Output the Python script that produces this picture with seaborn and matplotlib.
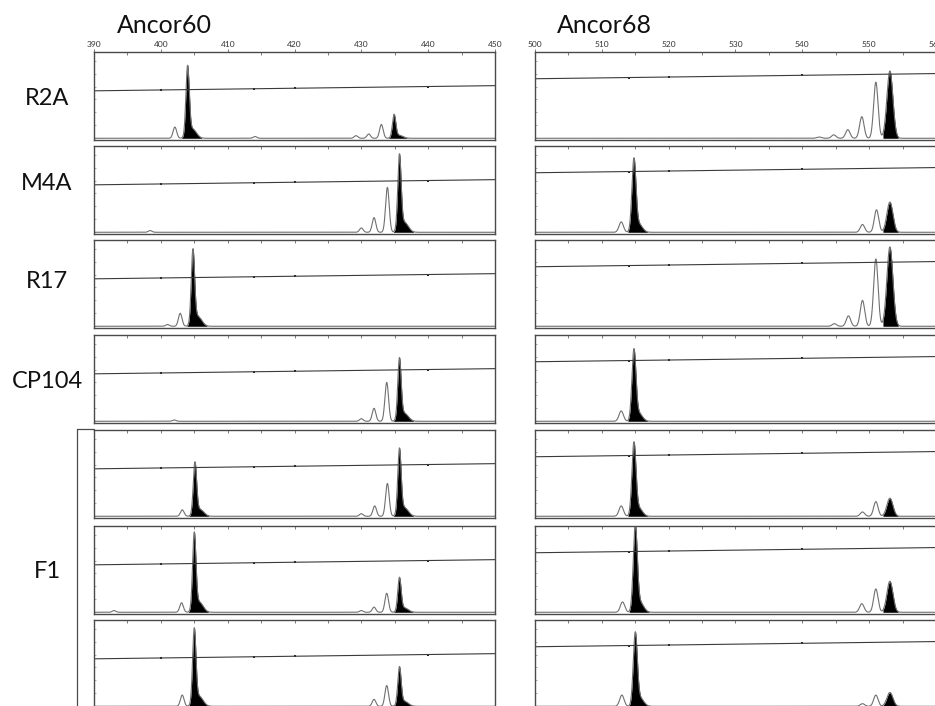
import numpy as np
import matplotlib
matplotlib.use("Agg")
import matplotlib.pyplot as plt
from matplotlib.lines import Line2D
import seaborn as sns

sns.set_style("white")
plt.rcParams["font.family"] = ["Lato", "DejaVu Sans"]

# ---------------- data ----------------
row_labels = ["R2A", "M4A", "R17", "CP104", "F1"]

markers = ["Ancor60", "Ancor68"]
ancor60_range = [390, 450]
ancor68_range = [500, 560]
ancor60_ticks = [390, 400, 410, 420, 430, 440, 450]
ancor68_ticks = [500, 510, 520, 530, 540, 550, 560]

# peaks: (size in bp, relative height, called allele?)
ancor60_peaks = [
    [(402.1, 0.13, False), (404.0, 0.79, True), (414.1, 0.02, False), (429.2, 0.03, False),
     (431.1, 0.05, False), (433.0, 0.16, False), (434.9, 0.26, True)],
    [(398.4, 0.02, False), (430.0, 0.05, False), (431.9, 0.17, False), (433.9, 0.52, False),
     (435.7, 0.85, True)],
    [(401.0, 0.02, False), (402.9, 0.15, False), (404.8, 0.84, True)],
    [(402.0, 0.015, False), (430.0, 0.03, False), (431.9, 0.15, False), (433.8, 0.45, False),
     (435.7, 0.69, True)],
    [(403.2, 0.075, False), (405.1, 0.59, True), (430.0, 0.03, False), (432.0, 0.12, False),
     (433.9, 0.38, False), (435.7, 0.74, True)],
    [(393.0, 0.02, False), (403.1, 0.11, False), (405.0, 0.87, True), (430.0, 0.02, False),
     (431.9, 0.06, False), (433.8, 0.22, False), (435.7, 0.38, True)],
    [(403.2, 0.13, False), (405.0, 0.85, True), (431.9, 0.08, False), (433.8, 0.24, False),
     (435.7, 0.43, True)],
]
ancor68_peaks = [
    [(542.5, 0.015, False), (544.7, 0.04, False), (546.8, 0.10, False), (548.9, 0.25, False),
     (551.0, 0.65, False), (553.1, 0.78, True)],
    [(512.9, 0.12, False), (514.8, 0.82, True), (549.0, 0.09, False), (551.1, 0.26, False),
     (553.1, 0.35, True)],
    [(544.8, 0.03, False), (546.9, 0.12, False), (549.0, 0.30, False), (551.0, 0.78, False),
     (553.1, 0.92, True)],
    [(512.9, 0.12, False), (514.8, 0.80, True)],
    [(512.9, 0.12, False), (514.8, 0.82, True), (549.0, 0.05, False), (551.0, 0.17, False),
     (553.1, 0.21, True)],
    [(513.1, 0.12, False), (515.0, 0.97, True), (548.9, 0.10, False), (551.0, 0.27, False),
     (553.1, 0.36, True)],
    [(513.0, 0.13, False), (515.0, 0.82, True), (549.0, 0.03, False), (551.0, 0.13, False),
     (553.1, 0.16, True)],
]

# internal size-standard line (start/end level) and its marks
ancor60_std_level = [0.55, 0.61]
ancor60_std_marks = [400, 414, 420, 440]
ancor68_std_level = [0.69, 0.75]
ancor68_std_marks = [514, 520, 540]

# ---------------- drawing ----------------
W, H = 935, 706
fig = plt.figure(figsize=(W / 100, H / 100), dpi=100)

row_tops = [52, 146, 240, 335, 430, 526, 620]
panel_h = 88
col_left = [94, 535]
panel_w = 401

TRACE = "#707070"
EDGE = "#4a4a4a"

cols = [
    dict(rng=ancor60_range, ticks=ancor60_ticks, peaks=ancor60_peaks,
         lvl=ancor60_std_level, marks=ancor60_std_marks),
    dict(rng=ancor68_range, ticks=ancor68_ticks, peaks=ancor68_peaks,
         lvl=ancor68_std_level, marks=ancor68_std_marks),
]

for ci, col in enumerate(cols):
    lo, hi = col["rng"]
    x = np.linspace(lo, hi, 4001)
    for ri in range(7):
        top = row_tops[ri]
        ax = fig.add_axes([col_left[ci] / W, 1 - (top + panel_h) / H, panel_w / W, panel_h / H])
        peaks = col["peaks"][ri]
        y = np.zeros_like(x)
        for p, h, called in peaks:
            if ci == 0:
                s = 0.25 if called else 0.27
                y += h * np.exp(-(x - p) ** 2 / (2 * s ** 2))
                if called:
                    y += 0.14 * h * np.exp(-(x - (p + 0.7)) ** 2 / (2 * 0.6 ** 2))
            else:
                if called and p > 540:
                    s = 0.45
                elif called:
                    s = 0.30
                else:
                    s = 0.33
                y += h * np.exp(-(x - p) ** 2 / (2 * s ** 2))
                if called and p < 540:
                    y += 0.12 * h * np.exp(-(x - (p + 0.7)) ** 2 / (2 * 0.55 ** 2))
        sns.lineplot(x=x, y=y, ax=ax, color=TRACE, linewidth=0.8, estimator=None, sort=False)
        for p, h, called in peaks:
            if called:
                if ci == 1 and p > 540:
                    m = (x >= p - 1.05) & (x <= p + 1.25)
                else:
                    m = (x >= p - 0.9) & (x <= p + 2.1)
                ax.fill_between(x, 0, y, where=m, color="black", linewidth=0)
        # size standard line
        l0, l1 = col["lvl"]
        ax.plot([lo, hi], [l0, l1], color="#3a3a3a", linewidth=0.8)
        mk = np.array(col["marks"], dtype=float)
        my = np.interp(mk, [lo, hi], [l0, l1])
        sns.scatterplot(x=mk, y=my, ax=ax, color="#222222", s=3, marker="s", linewidth=0)

        ax.set_xlim(lo, hi)
        ax.set_ylim(-0.02, 1.0)
        ax.set_xlabel("")
        ax.set_ylabel("")
        ax.xaxis.tick_top()
        ax.set_xticks(col["ticks"])
        ax.set_xticks(np.arange(lo, hi + 0.1, 5), minor=True)
        ax.tick_params(axis="x", which="both", direction="in", length=2, width=0.6,
                       colors="#666666", top=True, bottom=False)
        if ri == 0:
            ax.tick_params(axis="x", which="major", labeltop=True, labelsize=6,
                           labelcolor="#333333", pad=1, direction="out", length=2)
        else:
            ax.tick_params(axis="x", labeltop=False)
        ax.set_yticks([])
        ax.set_yticks(np.arange(0, 1.0, 0.15), minor=True)
        ax.tick_params(axis="y", which="minor", direction="in", length=1.5, width=0.5,
                       colors="#888888", left=True)
        for sp in ax.spines.values():
            sp.set_color(EDGE)
            sp.set_linewidth(1.0)
        ax.patch.set_alpha(0)

# column titles
fig.text(117 / W, 1 - 33 / H, "Ancor60", fontsize=18, ha="left", va="baseline", color="#111111")
fig.text(557 / W, 1 - 33 / H, "Ancor68", fontsize=18, ha="left", va="baseline", color="#111111")

# row labels
label_baselines = [105, 190, 288, 388, 578]
for lab, b in zip(row_labels, label_baselines):
    fig.text(47 / W, 1 - b / H, lab, fontsize=17, ha="center", va="baseline", color="#111111")

# F1 bracket
fig.add_artist(Line2D([77 / W, 94 / W], [1 - 429 / H, 1 - 429 / H], color=EDGE, linewidth=0.9))
fig.add_artist(Line2D([77 / W, 77 / W], [1 - 429 / H, 0], color=EDGE, linewidth=0.9))

fig.savefig("out.png", dpi=100)
